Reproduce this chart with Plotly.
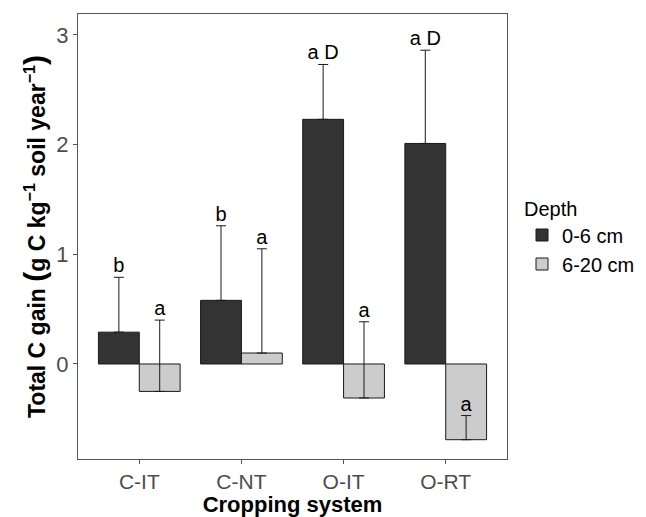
import plotly.graph_objects as go

systems = ["C-IT", "C-NT", "O-IT", "O-RT"]
depths = ["0-6 cm", "6-20 cm"]
gain_0_6 = [0.29, 0.58, 2.23, 2.01]
gain_6_20 = [-0.25, 0.10, -0.31, -0.69]
upper_0_6 = [0.79, 1.26, 2.73, 2.86]
upper_6_20 = [0.40, 1.05, 0.385, -0.47]
letters_0_6 = ["b", "b", "a D", "a D"]
letters_6_20 = ["a", "a", "a", "a"]

colors = ["#333333", "#CCCCCC"]
offsets = [-0.2, 0.2]
FONT = "Liberation Sans, Arial, sans-serif"

fig = go.Figure()
series = [(gain_0_6, upper_0_6, letters_0_6), (gain_6_20, upper_6_20, letters_6_20)]
for k, (vals, ups, labs) in enumerate(series):
    xs = [i + offsets[k] for i in range(len(systems))]
    fig.add_trace(go.Bar(
        x=xs, y=vals, width=0.4, name=depths[k],
        marker=dict(color=colors[k], line=dict(color="#1a1a1a", width=1)),
        error_y=dict(type="data", symmetric=False,
                     array=[u - v for u, v in zip(ups, vals)],
                     arrayminus=[0] * len(vals),
                     color="#1a1a1a", thickness=1, width=5),
        hoverinfo="skip",
    ))
for k, (vals, ups, labs) in enumerate(series):
    xs = [i + offsets[k] for i in range(len(systems))]
    fig.add_trace(go.Scatter(
        x=xs, y=ups, mode="text", text=labs, textposition="top center",
        textfont=dict(family=FONT, size=20, color="black"),
        showlegend=False, hoverinfo="skip",
    ))

ytitle = ("<b>Total C gain <span style='font-size:30px'>(</span>g C kg<sup>−1</sup> "
          "soil year<sup>−1</sup><span style='font-size:30px'>)</span></b>")

fig.update_layout(
    width=646, height=517,
    margin=dict(l=78, r=139, t=14, b=58, autoexpand=False),
    plot_bgcolor="white", paper_bgcolor="white",
    barmode="overlay",
    font=dict(family=FONT, color="black"),
    legend=dict(
        title=dict(text="Depth", font=dict(size=20, color="black")),
        font=dict(size=20, color="black"),
        x=1.035, xanchor="left", y=0.5, yanchor="middle",
        tracegroupgap=0, itemwidth=30,
    ),
    xaxis=dict(
        range=[-0.6, 3.6], tickmode="array",
        tickvals=list(range(len(systems))), ticktext=systems,
        showgrid=False, zeroline=False, automargin=False,
        showline=True, mirror=True, linecolor="#555555", linewidth=1,
        ticks="outside", ticklen=4, tickcolor="#555555",
        tickfont=dict(size=21, color="#4D4D4D"),
        title=dict(text="<b>Cropping system</b>", font=dict(size=22, color="black"), standoff=3),
    ),
    yaxis=dict(
        range=[-0.866, 3.19], tickmode="array", tickvals=[0, 1, 2, 3],
        showgrid=False, zeroline=False, automargin=False,
        showline=True, mirror=True, linecolor="#555555", linewidth=1,
        ticks="outside", ticklen=4, tickcolor="#555555",
        tickfont=dict(size=22, color="#4D4D4D"),
        title=dict(text=ytitle, font=dict(size=23, color="black"), standoff=4),
    ),
)

fig.write_html("out.html")
